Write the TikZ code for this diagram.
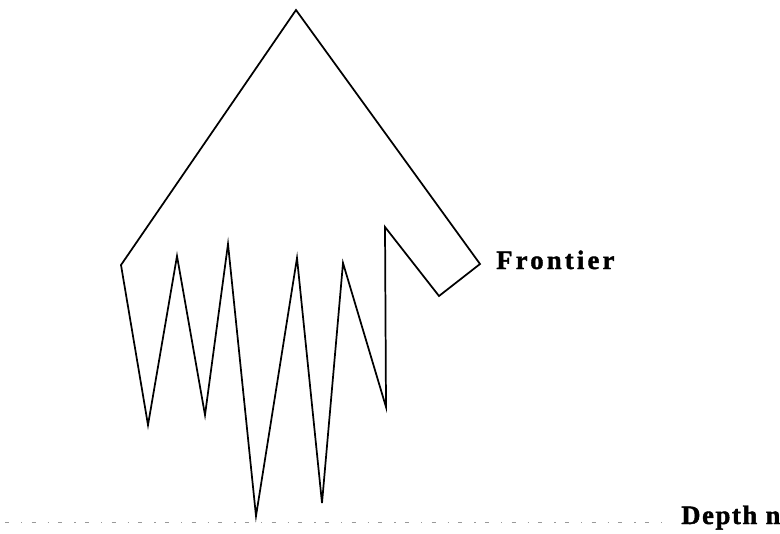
\documentclass[tikz,border=0pt]{standalone}
\usepackage{fontspec}
\setmainfont{Liberation Serif}
\usetikzlibrary{positioning}

\begin{document}
\begin{tikzpicture}[
  x=0.75pt,
  y=-0.75pt,
  outline/.style={line width=1.3pt, draw=black, line join=miter},
  level/.style={draw=black!40, line width=0.6pt, dash pattern=on 3pt off 9pt on 1pt off 7pt},
  tag/.style={font=\bfseries\fontsize{20}{23}\selectfont, inner sep=0pt}
]

\useasboundingbox (0,0) rectangle (780,533);

% search tree outline
\draw[outline] (296,10) -- (480,264) -- (439,296) -- (385,227)
  -- (386,407) -- (343,263) -- (322,503) -- (297,258) -- (256,516)
  -- (228,244) -- (205,415) -- (177,256) -- (148,425) -- (121,265) -- cycle;

\node[tag, anchor=base west] (frontier) at (496,269)
  {\addfontfeatures{LetterSpace=12,FakeBold=1.5}Frontier};

% depth line
\coordinate (lvlstart) at (5,522);
\node[tag, anchor=base west] (depth) at (681,524)
  {\addfontfeatures{LetterSpace=6,FakeBold=1.5}Depth n};
\draw[level] (lvlstart) -- ([xshift=-12pt]depth.west |- lvlstart);

\end{tikzpicture}
\end{document}
